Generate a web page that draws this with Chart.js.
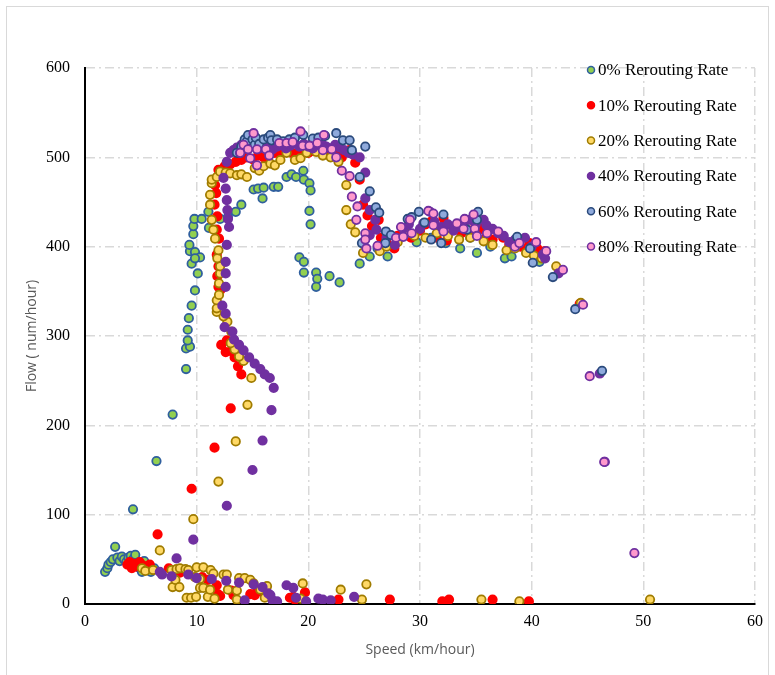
<!DOCTYPE html>
<html>
<head>
<meta charset="utf-8">
<title>Flow vs Speed</title>
<script src="https://cdn.jsdelivr.net/npm/chart.js@4"></script>
<style>
  html, body { margin: 0; padding: 0; background: #fff; }
  canvas { display: block; }
</style>
</head>
<body>
<canvas id="flowChart" width="775" height="675"></canvas>
<script>
// speed (km/hour), flow (num/hour) pairs per rerouting rate
const rate0 = [
  [1.8,36],[2.0,40],[2.1,44],[2.3,47],[2.5,50],[2.7,64],[2.9,52],[3.1,48],[3.3,53],[3.5,50],
  [3.7,47],[3.9,52],[4.1,54],[4.3,50],[4.5,55],[4.7,46],[4.9,40],[5.1,36],[5.3,48],[5.5,38],
  [5.7,42],[5.9,36],[6.2,40],[4.3,106],[6.4,160],[7.85,212],[9.05,263],[9.05,286],[9.4,288],
  [9.2,295],[9.2,307],[9.3,320],[9.55,334],[9.85,351],[10.1,370],[9.55,381],[9.4,395],[9.35,402],
  [9.85,394],[10.3,388],[9.85,387],[9.7,414],[9.7,423],[9.8,431],[10.45,431],[11.05,439],[11.1,421],
  [12.1,431],[12.8,433],[13.5,439],[14.0,447],[15.1,464],[15.5,465],[16.0,466],[15.9,454],[16.9,467],
  [17.3,467],[18.05,478],[18.5,481],[18.9,478],[19.55,485],[19.6,475],[20.1,471],[20.2,463],[20.1,440],
  [20.2,425],[19.2,388],[19.6,383],[19.6,371],[20.7,371],[20.8,364],[20.7,355],[21.9,367],[22.8,360],
  [24.6,381],[25.5,389],[26.2,398],[27.1,389],[28.0,408],[29.7,405],[31.0,410],[32.3,404],[33.6,398],
  [34.5,410],[35.1,393],[36.3,400],[37.6,387],[38.2,389],[40.7,383]
];
const rate10 = [
  [3.8,44],[4.0,47],[4.2,40],[4.4,45],[4.6,42],[4.9,47],[5.2,43],[5.5,40],[5.8,44],[6.5,78],
  [7.5,40],[8.5,35],[9.55,129],[10.5,30],[11.0,27],[11.8,21],[11.9,11],[12.1,9],[13.1,15],[13.3,10],
  [14.8,11],[15.2,10],[15.4,14],[16.0,12],[18.35,7],[18.65,8],[18.8,5],[19.7,13],[22.7,5],[27.3,5],
  [32.0,3],[32.6,5],[36.5,5],[39.75,3],
  [11.6,175],[13.05,219],[14.0,257],[13.7,266],[13.4,276],[12.6,282],[13.1,283],[12.2,290],[12.7,295],
  [12.15,352],[11.95,355],[11.85,367],[11.95,378],[11.8,391],[12.0,409],[11.8,419],[11.85,434],
  [11.6,447],[11.75,460],[11.65,469],[11.95,486],
  [12.5,490],[13.0,492],[13.5,495],[14.0,497],[14.5,500],[15.0,498],[15.5,502],[16.0,500],[16.5,503],
  [17.0,505],[17.5,503],[18.0,506],[18.5,505],[19.0,505],[19.5,508],[20.0,505],[20.5,507],[21.0,506],
  [21.5,508],[22.0,505],[22.5,505],[23.0,500],[23.7,508],[24.2,494],[24.6,475],[24.9,447],[25.3,435],
  [25.7,423],[26.3,430],[26.5,410],[27.0,405],[27.7,398],[28.0,412],[29.2,410],[30.0,418],[30.5,425],
  [31.0,428],[31.5,410],[32.1,432],[32.4,407],[32.1,423],[33.0,420],[33.7,415],[34.5,418],[35.0,425],
  [35.5,420],[36.0,412],[36.5,408],[37.45,410],[38.0,402],[38.5,405],[39.0,400],[39.8,404],[40.5,398],
  [41.2,395],[44.3,336]
];
const rate20 = [
  [5.1,40],[5.4,37],[6.1,38],[6.7,60],[7.75,38],[7.85,19],[8.1,27],[8.2,39],[8.45,19],[8.5,40],
  [9.0,39],[9.1,7],[9.25,38],[9.5,7],[9.7,95],[9.85,30],[9.95,8],[10.0,41],[10.3,28],[10.3,18],
  [10.6,41],[10.6,18],[11.0,8],[11.2,16],[11.25,38],[11.5,34],[11.6,6],[12.4,33],[12.7,33],[12.8,16],
  [13.6,15],[13.6,5],[13.8,29],[14.3,29],[14.8,27],[15.1,23],[15.7,16],[16.1,7],[16.3,20],[19.3,6],
  [19.5,23],[22.9,16],[25.2,22],[24.8,5],[35.5,5],[38.9,3],[50.6,5],
  [11.95,137],[13.5,182],[14.55,223],[14.9,253],[14.2,272],[13.8,277],[13.4,285],[13.05,292],[13.1,305],
  [12.75,316],[12.4,322],[11.8,327],[11.8,331],[11.8,340],[12.0,346],[12.0,359],[12.1,370],[12.1,378],
  [11.85,387],[11.95,396],[11.65,409],[11.5,419],[11.35,430],[11.2,447],[11.2,458],[11.35,471],
  [11.35,475],[11.8,478],
  [12.1,484],[12.6,483],[13.0,482],[13.6,480],[14.0,481],[14.5,478],[15.2,488],[15.6,485],[16.0,490],
  [16.6,493],[17.0,491],[17.5,497],[18.05,505],[18.8,497],[19.3,499],[19.85,505],[20.7,506],[21.3,502],
  [22.0,500],[22.7,495],[23.4,469],[23.4,441],[23.8,425],[24.2,416],[24.9,393],[26.4,395],[27.0,400],
  [28.0,405],[28.8,415],[29.5,412],[30.5,410],[31.5,415],[32.5,412],[33.5,408],[34.5,410],[35.7,406],
  [36.5,402],[37.75,396],[38.5,398],[39.5,393],[40.2,390],[40.9,387],[42.2,378],[44.4,337]
];
const rate40 = [
  [6.7,36],[6.9,33],[7.75,31],[8.2,51],[9.25,33],[9.7,72],[10.0,29],[11.35,28],[12.65,26],[13.8,24],
  [14.3,4],[15.1,22],[15.9,19],[16.4,12],[16.6,10],[16.8,4],[17.2,3],[18.05,21],[18.65,18],[18.9,7],
  [19.8,3],[20.9,6],[21.3,5],[22.0,4],[24.1,8],
  [12.7,110],[15.0,150],[15.9,183],[16.7,217],[16.9,242],[16.55,253],[16.1,257],[15.7,263],[15.2,269],
  [14.7,276],[14.2,284],[13.8,290],[13.35,296],[13.2,305],[12.5,310],[12.6,325],[12.3,334],[12.6,355],
  [12.6,370],[12.6,383],[12.7,402],[12.9,422],[12.8,431],[12.75,441],[12.7,452],[12.6,465],[12.4,477],
  [12.7,495],
  [13.0,505],[13.3,508],[13.6,511],[14.0,514],[14.4,510],[14.8,515],[15.2,512],[15.6,510],[16.0,514],
  [16.4,511],[16.8,509],[17.2,512],[17.6,514],[18.0,510],[18.4,513],[18.8,516],[19.2,512],[19.6,515],
  [20.0,512],[20.4,510],[20.8,514],[21.2,516],[21.6,512],[22.0,510],[22.4,514],[22.8,511],[23.2,508],
  [23.6,505],[24.0,503],[24.6,500],[25.1,483],[25.1,454],[25.5,441],[26.0,430],[26.1,419],[25.5,413],
  [27.0,410],[27.75,402],[28.5,420],[29.0,425],[30.0,420],[30.3,426],[30.9,439],[31.3,428],[31.9,422],
  [32.5,425],[33.0,418],[33.5,422],[34.0,428],[34.5,430],[35.0,425],[35.7,430],[35.95,424],[36.5,420],
  [37.0,415],[37.5,412],[38.0,405],[38.5,408],[39.4,410],[40.0,400],[41.0,391],[41.2,387],[42.4,370],
  [46.1,258],[46.55,159]
];
const rate60 = [
  [13.6,505],[13.9,505],[14.0,512],[14.3,520],[14.5,518],[14.6,525],[15.0,520],[15.2,514],[15.3,522],
  [15.6,515],[16.0,520],[16.4,522],[16.6,525],[16.7,519],[17.2,520],[17.75,518],[18.3,520],[18.8,522],
  [19.55,525],[20.4,521],[20.9,522],[21.5,524],[22.5,527],[23.1,519],[23.7,519],[23.9,508],[25.1,512],
  [24.6,478],[25.5,462],[26.05,444],[26.35,438],[26.95,417],[27.4,413],[24.8,404],[26.9,404],[28.9,431],
  [29.25,433],[29.9,439],[30.4,427],[31.0,408],[31.9,404],[32.1,436],[34.2,419],[35.1,430],[35.2,439],
  [38.7,411],[39.85,398],[40.1,382],[41.9,366],[43.9,330],[46.3,261]
];
const rate80 = [
  [13.9,505],[14.2,514],[14.6,509],[14.8,499],[15.1,527],[15.4,509],[15.4,491],[16.2,509],[16.5,502],
  [17.4,516],[18.05,516],[18.6,517],[19.3,529],[19.5,513],[20.1,513],[20.8,516],[21.4,525],[21.3,508],
  [22.1,509],[22.5,500],[23.0,485],[23.7,479],[23.9,456],[24.4,445],[24.3,430],[25.1,415],[25.1,408],
  [25.2,398],[26.2,401],[27.85,410],[28.5,411],[28.3,422],[29.1,430],[29.25,415],[30.75,440],[31.2,437],
  [31.2,424],[32.1,417],[33.3,426],[34.0,431],[34.8,436],[33.9,420],[34.9,420],[35.1,412],[36.0,415],
  [37.0,417],[38.5,400],[38.9,404],[40.4,405],[41.3,395],[42.8,374],[44.6,335],[45.2,255],[46.5,159],
  [49.2,57]
];

const seriesNames = ['0% Rerouting Rate', '10% Rerouting Rate', '20% Rerouting Rate',
                     '40% Rerouting Rate', '60% Rerouting Rate', '80% Rerouting Rate'];
const seriesData = [rate0, rate10, rate20, rate40, rate60, rate80];
const fills   = ['#92d050', '#ff0000', '#ffd966', '#7030a0', '#8faadc', '#ff99cc'];
const borders = ['#2f5f9e', '#ff0000', '#a07c00', '#7030a0', '#2a4a7c', '#7030a0'];

const serif = '"Liberation Serif", "Times New Roman", serif';
const sans = '"Open Sans", "Noto Sans", sans-serif';

// white page with a thin grey frame
const frame = {
  id: 'frame',
  beforeDraw(chart) {
    const ctx = chart.ctx;
    ctx.save();
    ctx.fillStyle = '#fff';
    ctx.fillRect(0, 0, chart.width, chart.height);
    ctx.strokeStyle = '#d9d9d9';
    ctx.lineWidth = 1;
    ctx.strokeRect(6.5, 6.5, 762, 720);
    ctx.restore();
  }
};

// legend sits inside the plot, top right
const sideLegend = {
  id: 'sideLegend',
  afterDraw(chart) {
    const ctx = chart.ctx;
    const x0 = chart.chartArea.right - 164;
    ctx.save();
    ctx.font = '17px ' + serif;
    ctx.textBaseline = 'middle';
    chart.data.datasets.forEach((ds, i) => {
      const y = chart.chartArea.top + 2 + i * 35.3;
      ctx.beginPath();
      ctx.arc(x0, y, 3.5, 0, Math.PI * 2);
      ctx.fillStyle = ds.backgroundColor;
      ctx.fill();
      ctx.lineWidth = 1.5;
      ctx.strokeStyle = ds.borderColor;
      ctx.stroke();
      ctx.fillStyle = '#000';
      ctx.fillText(ds.label, x0 + 7, y + 1);
    });
    ctx.restore();
  }
};

const datasets = seriesData.map((pts, i) => ({
  label: seriesNames[i],
  data: pts.map(p => ({ x: p[0], y: p[1] })),
  backgroundColor: fills[i],
  borderColor: borders[i],
  pointRadius: 4.2,
  pointHoverRadius: 4.2,
  pointBorderWidth: 1.8,
  order: seriesData.length - i
}));

new Chart(document.getElementById('flowChart'), {
  type: 'scatter',
  data: { datasets: datasets },
  plugins: [frame, sideLegend],
  options: {
    responsive: false,
    animation: false,
    layout: { padding: { left: 10, right: 20, top: 68, bottom: 11 } },
    plugins: {
      legend: { display: false },
      tooltip: { enabled: false }
    },
    scales: {
      x: {
        type: 'linear',
        min: 0,
        max: 60,
        afterFit: scale => { scale.height = 60; },
        ticks: { stepSize: 10, padding: 8, color: '#000', font: { family: serif, size: 16 } },
        grid: { color: '#d9d9d9', lineWidth: 1.5, drawTicks: false },
        border: { color: '#000', width: 2, dash: [9, 4, 2, 4] },
        title: {
          display: true,
          text: 'Speed (km/hour)',
          color: '#595959',
          font: { family: sans, size: 14 },
          padding: { top: 0, bottom: 6 }
        }
      },
      y: {
        type: 'linear',
        min: 0,
        max: 600,
        afterFit: scale => { scale.width = 75; },
        ticks: { stepSize: 100, padding: 15, color: '#000', font: { family: serif, size: 16 } },
        grid: { color: '#d9d9d9', lineWidth: 1.5, drawTicks: false },
        border: { color: '#000', width: 2, dash: [9, 4, 2, 4] },
        title: {
          display: true,
          text: 'Flow ( num/hour)',
          color: '#595959',
          font: { family: sans, size: 14 },
          padding: { top: 14, bottom: 0 }
        }
      }
    }
  }
});
</script>
</body>
</html>
